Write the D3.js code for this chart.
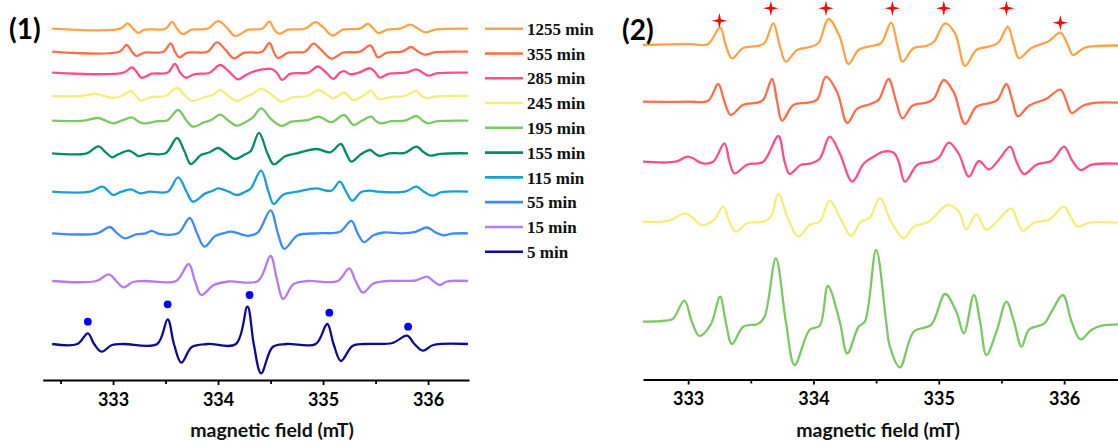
<!DOCTYPE html>
<html><head><meta charset="utf-8">
<script src="https://cdn.jsdelivr.net/npm/d3@7"></script>
<style>html,body{margin:0;padding:0;background:#fff;}svg{display:block;}</style>
</head><body>
<svg id="chart" width="1118" height="445"></svg>
<script>
// ---------- DATA ----------
const tickValues = [333, 334, 335, 336];
const minorTickValues = [332.5, 333.5, 334.5, 335.5];
const axisTitle = "magnetic field (mT)";

// Left panel series (top to bottom)
const leftNames = ["1255 min","355 min","285 min","245 min","195 min","155 min","115 min","55 min","15 min","5 min"];
const leftColors = ["#FFA347","#FF6E4A","#FF4F86","#F6EE7A","#7CC864","#008C68","#18A0D6","#3D8BFF","#B37BF5","#0B0B96"];
const leftOffsets = [315.3, 292.3, 271.3, 248, 223.3, 190.7, 152.3, 110.7, 63, 0];

const L1255 = [[332.42,0],[333.07,0],[333.14,5.3],[333.19,0],[333.24,-4.2],[333.30,-1],[333.50,0],[333.56,6.8],[333.61,0],[333.66,-5.5],[333.75,-1],[333.90,0],[334.00,7.5],[334.08,1.5],[334.16,-7.2],[334.29,-1],[334.42,0],[334.49,7],[334.53,0],[334.58,-5],[334.67,-1],[334.83,0],[334.93,6.5],[335.00,1.5],[335.09,-6.8],[335.19,-1],[335.35,0],[335.43,4.8],[335.48,0],[335.53,-4.5],[335.61,-1],[335.73,0],[335.83,4],[335.90,0.5],[335.97,-3.7],[336.07,-1],[336.38,0]];
const L355 = [[332.42,0],[333.06,0],[333.13,6.7],[333.18,0],[333.22,-4.3],[333.30,-1],[333.48,0],[333.55,8.4],[333.59,0],[333.63,-5.6],[333.71,-1],[333.90,0],[333.99,9.4],[334.07,2],[334.15,-6.6],[334.25,-1],[334.42,0],[334.49,8.7],[334.53,0],[334.57,-6.3],[334.67,-1],[334.83,0],[334.91,8],[334.98,2],[335.08,-7],[335.19,-1],[335.35,0],[335.45,6.3],[335.49,0],[335.52,-5.7],[335.61,-1],[335.75,0],[335.84,4.7],[335.90,0.5],[335.97,-3],[336.07,-0.5],[336.38,0]];
const L285 = [[332.42,0],[333.10,0],[333.18,5.4],[333.23,0],[333.27,-5],[333.37,-1],[333.52,0],[333.59,8.7],[333.64,0],[333.69,-5],[333.78,-1.5],[333.92,0],[334.02,7.7],[334.10,1.5],[334.19,-6.6],[334.27,-2],[334.35,1.5],[334.44,3.5],[334.51,3.7],[334.56,0],[334.61,-7.2],[334.69,-1],[334.86,0],[334.95,6.2],[335.03,0],[335.10,-6.2],[335.16,0],[335.20,1.5],[335.26,-1.5],[335.34,0],[335.45,4.4],[335.50,0],[335.54,-4.8],[335.63,-1],[335.79,0],[335.89,3.3],[335.95,0],[336.00,-3],[336.09,-0.5],[336.38,0]];
const L245 = [[332.42,0],[332.70,0],[332.83,2],[332.92,0],[332.99,-2],[333.08,0],[333.17,5],[333.22,0],[333.26,-4.3],[333.37,-1],[333.50,0],[333.61,8],[333.68,1],[333.75,-4.8],[333.88,-1],[333.95,1],[334.02,6],[334.10,0],[334.18,-5],[334.26,-1],[334.33,2],[334.41,7.3],[334.50,2],[334.55,-2],[334.61,-5.7],[334.70,-1.5],[334.85,0],[334.96,6],[335.04,1],[335.10,-2.3],[335.20,3.3],[335.29,-4],[335.38,0],[335.46,5.3],[335.50,0],[335.54,-3.3],[335.64,-1],[335.78,0],[335.89,5],[335.94,0],[335.99,-2.3],[336.07,-0.5],[336.38,0]];
const L195 = [[332.42,0],[332.72,0],[332.86,2.7],[332.93,0],[333.00,-2.7],[333.08,0],[333.18,3.3],[333.23,0],[333.29,-2.7],[333.43,-0.5],[333.52,0.5],[333.62,10.7],[333.70,0],[333.76,-6],[333.86,-2],[333.94,1],[334.02,6],[334.10,0],[334.18,-5],[334.26,-1.5],[334.33,3],[334.41,12.3],[334.50,2],[334.56,-3],[334.61,-5.3],[334.70,-1],[334.85,0.5],[334.96,4],[335.08,-1.5],[335.20,5.7],[335.29,-4.3],[335.37,0],[335.46,4],[335.50,0],[335.55,-2.7],[335.65,-0.5],[335.78,0],[335.89,4.7],[335.95,0],[336.00,-2.7],[336.09,-0.5],[336.38,0]];
const L155 = [[332.42,0],[332.75,0],[332.86,7],[332.93,1],[332.99,-4],[333.05,-1],[333.15,2.7],[333.20,0],[333.24,-2.7],[333.33,-0.5],[333.50,0],[333.61,15.3],[333.68,2],[333.74,-10.7],[333.84,-1.5],[333.92,1],[334.00,5.3],[334.08,0],[334.16,-5.7],[334.26,-1],[334.31,2],[334.39,20.5],[334.47,0],[334.53,-11],[334.64,-3],[334.75,0],[334.94,4.3],[335.07,1],[335.17,9.3],[335.22,0],[335.27,-8.3],[335.36,-1],[335.45,3.3],[335.49,0],[335.54,-2.7],[335.63,0],[335.78,0.5],[335.89,6.7],[335.96,1],[336.02,-2.3],[336.12,-0.5],[336.38,0]];
const L115 = [[332.42,0],[332.78,0],[332.90,5],[332.96,0],[333.00,-3.3],[333.08,0],[333.17,2.3],[333.22,0],[333.26,-1.7],[333.35,0],[333.52,0],[333.62,14.3],[333.70,0],[333.76,-10],[333.88,-1.7],[333.95,1],[334.00,3.3],[334.10,0],[334.18,-3.3],[334.26,0],[334.31,3],[334.41,21],[334.48,0],[334.53,-12.3],[334.62,-3],[334.76,0],[334.93,3.3],[335.08,1],[335.16,10],[335.22,0],[335.28,-9],[335.36,-0.5],[335.45,1],[335.52,0],[335.78,0],[335.89,5],[335.96,0],[336.04,-4],[336.13,-0.5],[336.38,0]];
const L55 = [[332.42,0],[332.85,0],[332.97,6.3],[333.04,0],[333.11,-5],[333.22,-1],[333.31,0],[333.37,2.5],[333.44,-0.5],[333.62,0],[333.73,15.3],[333.80,0],[333.87,-13.3],[333.97,-3],[334.05,0],[334.13,1.7],[334.22,-1],[334.29,-2.5],[334.38,1],[334.50,23],[334.57,0],[334.63,-15.5],[334.76,-2],[334.95,0],[335.16,1.5],[335.27,12.5],[335.33,0],[335.39,-8.8],[335.48,-2],[335.58,0.8],[335.75,0],[335.88,1.5],[335.99,5.8],[336.07,1],[336.15,-2],[336.23,-0.3],[336.38,0]];
const L15 = [[332.42,0],[332.84,0],[332.96,6.7],[333.03,0],[333.10,-6.3],[333.19,-1],[333.30,0],[333.60,0],[333.72,17],[333.78,0],[333.84,-14],[333.96,-4],[334.10,-0.5],[334.38,0],[334.50,25],[334.56,2],[334.62,-18],[334.72,-3],[334.85,0],[335.14,0],[335.25,12.7],[335.31,0],[335.38,-11.7],[335.48,-2.5],[335.62,0],[335.88,0.5],[335.99,4.3],[336.05,0],[336.11,-4],[336.18,-0.5],[336.38,0]];
const L5 = [[332.42,0],[332.66,0],[332.76,10.7],[332.82,0],[332.89,-7.7],[332.99,-1],[333.10,0],[333.42,0],[333.52,24.7],[333.58,0],[333.65,-18.7],[333.75,-3],[333.90,0],[334.17,0],[334.28,37.3],[334.34,0],[334.41,-29.3],[334.52,-3],[334.65,0],[334.93,0],[335.04,20],[335.10,0],[335.17,-17],[335.28,-2],[335.40,0],[335.66,1],[335.80,8.3],[335.87,0],[335.95,-6.7],[336.05,-1],[336.38,0]];
const leftTraces = [L1255, L355, L285, L245, L195, L155, L115, L55, L15, L5];

// blue dots on the 5 min trace
const dotField = [332.76, 333.52, 334.30, 335.06, 335.81];
const dotValue = [22.3, 39.7, 49, 31.3, 17.3];

// Right panel series (top to bottom)
const rightNames = ["1255 min","355 min","285 min","245 min","195 min"];
const rightColors = ["#FFA347","#FF6E4A","#FF4F86","#F6EE7A","#7CC864"];
const rightOffsets = [276.7, 220, 160, 100, 0];

const R1255 = [[332.64,0],[333.00,1],[333.16,1],[333.255,17.7],[333.30,0],[333.35,-13.3],[333.44,-3],[333.55,-1],[333.61,2],[333.68,21.7],[333.73,0],[333.78,-16.7],[333.87,-5],[333.97,-2],[334.04,2],[334.12,26],[334.21,8.3],[334.28,-19],[334.36,-5],[334.46,-1],[334.54,2],[334.62,22.3],[334.67,0],[334.71,-16.7],[334.80,-3],[334.90,-1],[334.96,3],[335.05,21.7],[335.13,11.7],[335.21,-21],[335.30,-5],[335.42,-1],[335.48,3],[335.55,18.3],[335.60,0],[335.64,-13.3],[335.74,-3],[335.88,4],[335.97,12.3],[336.03,0],[336.07,-10],[336.16,-3],[336.26,-1],[336.43,-0.5]];
const R355 = [[332.64,0],[333.00,0],[333.16,1],[333.24,17.7],[333.29,0],[333.34,-13.3],[333.44,-3],[333.55,-1],[333.60,2],[333.67,22.7],[333.71,0],[333.75,-19],[333.84,-3.3],[333.96,-1],[334.03,2],[334.10,25],[334.19,9.3],[334.27,-21.3],[334.35,-7],[334.46,-2],[334.52,2],[334.60,22.7],[334.66,0],[334.71,-16.7],[334.79,-4],[334.90,-1],[334.96,3],[335.04,21.7],[335.12,9.3],[335.21,-22.3],[335.30,-5],[335.42,-1],[335.47,2],[335.54,17.7],[335.59,0],[335.63,-14.7],[335.72,-4],[335.86,3],[335.97,12],[336.02,0],[336.06,-11.3],[336.15,-4],[336.26,-1],[336.43,-1]];
const R285 = [[332.64,0],[332.90,0],[333.00,5],[333.12,-1.7],[333.20,0],[333.29,18.3],[333.33,0],[333.37,-11.7],[333.47,-3],[333.60,0],[333.72,25.7],[333.77,0],[333.81,-12.3],[333.90,-3],[333.97,-2],[334.05,3],[334.13,25],[334.21,8.3],[334.31,-20],[334.40,-2],[334.48,5],[334.56,10],[334.64,9],[334.68,0],[334.73,-20],[334.83,-3],[334.94,0],[335.00,4],[335.08,19],[335.16,7.7],[335.24,-15],[335.32,0.7],[335.40,-7.7],[335.48,2],[335.57,15],[335.62,0],[335.68,-12.3],[335.78,-3],[335.90,1],[336.00,15],[336.06,2],[336.13,-8.3],[336.22,-3],[336.43,-2]];
const R245 = [[332.64,0],[332.85,1],[332.98,8.3],[333.11,-3.3],[333.20,1],[333.28,15],[333.33,0],[333.38,-10],[333.47,-1.5],[333.60,0],[333.66,5],[333.72,27.7],[333.80,2],[333.88,-15],[333.97,-3],[334.05,0],[334.13,21],[334.22,2],[334.30,-14.3],[334.38,0],[334.45,4],[334.53,23.3],[334.62,0],[334.72,-16.7],[334.80,-5],[334.92,0],[335.07,16.7],[335.16,10],[335.22,-7.7],[335.30,7.3],[335.38,-8.3],[335.46,0],[335.58,13.3],[335.63,0],[335.67,-9],[335.76,-1],[335.88,2],[336.00,15],[336.06,3],[336.11,-5],[336.20,-1],[336.43,-1]];
const R195 = [[332.64,0],[332.82,1],[332.88,3],[332.97,21],[333.03,0],[333.09,-14.3],[333.18,-3],[333.255,25],[333.30,0],[333.35,-22.3],[333.44,-5],[333.56,-2],[333.61,5],[333.70,63.3],[333.78,0],[333.85,-43.3],[333.97,-8],[334.05,-4],[334.115,35.7],[334.21,0],[334.27,-31.7],[334.36,-5],[334.41,0],[334.50,71.7],[334.58,0],[334.61,-25],[334.69,-45.7],[334.80,-10],[334.94,-3],[335.05,27.7],[335.14,10],[335.20,-11.7],[335.28,26.7],[335.33,0],[335.38,-33.3],[335.46,-10],[335.54,20],[335.60,0],[335.66,-25],[335.72,-8],[335.84,-2],[335.90,10],[335.99,26.7],[336.06,0],[336.13,-17.7],[336.22,-8],[336.30,-4],[336.43,-2.7]];
const rightTraces = [R1255, R355, R285, R245, R195];

// red stars above the 1255 min trace
const starField = [333.25, 333.66, 334.10, 334.63, 335.04, 335.54, 335.97];
const starValue = [301, 313.4, 313.4, 313.4, 313.4, 313.4, 299];

// ---------- DRAW ----------
const svg = d3.select("#chart");
const sansBold = "Lato, 'Open Sans', sans-serif";

const xL = d3.scaleLinear().domain([332.33, 336.39]).range([42.7, 469]);
const yL = d3.scaleLinear().domain([0, 344]).range([344, 0]);
const xR = d3.scaleLinear().domain([332.64, 336.43]).range([643, 1118]);
const yR = d3.scaleLinear().domain([0, 321.7]).range([321.7, 0]);

const curve = d3.curveCatmullRom.alpha(0.5);

const gL = svg.append("g");
leftTraces.forEach((tr, i) => {
  const line = d3.line().x(d => xL(d[0])).y(d => yL(leftOffsets[i] + d[1])).curve(curve);
  gL.append("path").attr("d", line(tr)).attr("fill", "none")
    .attr("stroke", leftColors[i]).attr("stroke-width", 2.3).attr("stroke-linejoin", "round");
});
gL.selectAll("circle.dot").data(dotField).enter().append("circle")
  .attr("cx", d => xL(d)).attr("cy", (d, i) => yL(dotValue[i])).attr("r", 3.9).attr("fill", "#0000FF");

const gR = svg.append("g");
rightTraces.forEach((tr, i) => {
  const line = d3.line().x(d => xR(d[0])).y(d => yR(rightOffsets[i] + d[1])).curve(curve);
  gR.append("path").attr("d", line(tr)).attr("fill", "none")
    .attr("stroke", rightColors[i]).attr("stroke-width", 2.3).attr("stroke-linejoin", "round");
});
const star4 = {
  draw(ctx, size) {
    const R = Math.sqrt(size), r = R * 0.27;
    for (let k = 0; k < 8; k++) {
      const a = k * Math.PI / 4 - Math.PI / 2, rad = k % 2 ? r : R;
      const px = Math.cos(a) * rad, py = Math.sin(a) * rad;
      if (k === 0) ctx.moveTo(px, py); else ctx.lineTo(px, py);
    }
    ctx.closePath();
  }
};
gR.selectAll("path.star").data(starField).enter().append("path")
  .attr("transform", (d, i) => `translate(${xR(d)},${yR(starValue[i])})`)
  .attr("d", d3.symbol().type(star4).size(58)).attr("fill", "#FF0000");

// Axes
function drawAxis(x, yPos, titleX) {
  const [d0, d1] = x.domain();
  const g = svg.append("g").attr("transform", `translate(0,${yPos})`);
  g.call(d3.axisBottom(x).tickValues(tickValues).tickSize(5).tickSizeOuter(0).tickPadding(8).tickFormat(d3.format("d")));
  g.append("g").call(d3.axisBottom(x).tickValues(minorTickValues.filter(v => v > d0 && v < d1)).tickSize(4).tickSizeOuter(0).tickFormat(""))
    .select(".domain").remove();
  g.selectAll(".domain").attr("stroke", "#000").attr("stroke-width", 2.2);
  g.selectAll(".tick line").attr("stroke", "#000").attr("stroke-width", 1.8);
  g.selectAll(".tick text").attr("font-family", sansBold).attr("font-weight", "bold")
    .attr("font-size", 18).attr("fill", "#000");
  svg.append("text").attr("x", titleX).attr("y", 437).attr("text-anchor", "middle")
    .attr("font-family", sansBold).attr("font-weight", "bold").attr("font-size", 19.5).attr("fill", "#111")
    .text(axisTitle);
}
drawAxis(xL, 380, 272);
drawAxis(xR, 379.5, 878);

// Legend
const lg = svg.append("g");
leftNames.forEach((n, i) => {
  const yy = 28.7 + i * 24.78;
  lg.append("line").attr("x1", 485).attr("x2", 523).attr("y1", yy).attr("y2", yy)
    .attr("stroke", leftColors[i]).attr("stroke-width", 2.6);
  lg.append("text").attr("x", 527).attr("y", yy).attr("dy", "0.36em")
    .attr("font-family", "'Liberation Serif', 'DejaVu Serif', serif").attr("font-weight", "bold")
    .attr("font-size", 17).attr("fill", "#111").text(n);
});

// Panel labels
svg.append("text").attr("x", 9).attr("y", 39).attr("font-family", sansBold).attr("font-weight", "bold")
  .attr("font-size", 28).attr("fill", "#000").text("(1)");
svg.append("text").attr("x", 622).attr("y", 40).attr("font-family", sansBold).attr("font-weight", "bold")
  .attr("font-size", 28).attr("fill", "#000").text("(2)");
</script>
</body></html>
